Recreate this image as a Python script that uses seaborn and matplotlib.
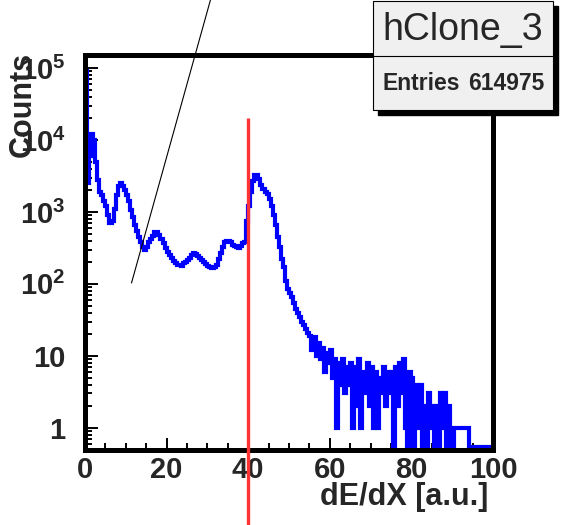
import numpy as np
import pandas as pd
import matplotlib
matplotlib.use("Agg")
import matplotlib.pyplot as plt
import seaborn as sns
from matplotlib.lines import Line2D
from matplotlib.patches import Rectangle
from matplotlib.ticker import FixedLocator, FixedFormatter, LogLocator, MultipleLocator, NullFormatter

# ---------------- data ----------------
bin_width = 0.5
x_min, x_max = 0, 100
y_min, y_max = 0.50, 1.54e5
counts = [
    90000, 2500, 6000, 12000, 10000, 5000, 2800, 1900, 1700, 1400,
    1200, 900, 700, 750, 1100, 1700, 2300, 2500, 2300, 2000,
    1700, 1400, 1050, 850, 650, 550, 450, 380, 330, 300,
    330, 380, 420, 470, 520, 520, 480, 420, 370, 320,
    280, 250, 230, 210, 195, 185, 185, 180, 195, 200,
    215, 230, 255, 265, 260, 245, 230, 215, 200, 190,
    180, 170, 165, 170, 185, 220, 270, 330, 380, 400,
    400, 380, 350, 340, 330, 320, 340, 370, 380, 750,
    1200, 1900, 2700, 3300, 3300, 2900, 2400, 2100, 1900, 1800,
    1500, 1200, 900, 650, 450, 330, 220, 170, 110, 85,
    75, 65, 55, 45, 40, 35, 30, 27, 24, 21,
    19, 12, 18, 10, 15, 9, 13, 6, 11, 8,
    12, 5, 9, 1, 8, 4, 9, 3, 7, 4,
    8, 1, 7, 2, 9, 1, 6, 3, 8, 2,
    7, 1, 6, 1, 5, 3, 7, 2, 6, 3,
    6, 0, 7, 2, 8, 3, 9, 1, 0, 6,
    5, 0, 4, 1, 4, 0, 2, 0, 3, 1,
    2, 0, 2, 0, 3, 1, 3, 0, 2, 0,
    0, 1, 1, 1, 1, 1, 1, 1, 0, 0,
    0, 0, 0, 0, 0, 0, 0, 0, 0, 0,
]
x_ticks = [0, 20, 40, 60, 80, 100]
x_tick_labels = ["0", "20", "40", "60", "80", "100"]
y_ticks = [1, 10, 1e2, 1e3, 1e4, 1e5]
y_tick_labels = ["1", "10", r"$10^{2}$", r"$10^{3}$", r"$10^{4}$", r"$10^{5}$"]
cut_value = 40
hist_name = "hClone_3"
entries_label = "Entries"
entries_value = "614975"
x_label = "dE/dX [a.u.]"
y_label = "Counts"

# ---------------- style ----------------
W, H = 562, 525
sns.set_style("ticks")
FONT = "Liberation Sans"
plt.rcParams["font.family"] = [FONT, "DejaVu Sans"]
plt.rcParams["mathtext.fontset"] = "custom"
plt.rcParams["mathtext.rm"] = FONT + ":bold"
plt.rcParams["mathtext.bf"] = FONT + ":bold"
plt.rcParams["mathtext.it"] = FONT + ":bold"

fig = plt.figure(figsize=(W / 100, H / 100), dpi=100)
fig.patch.set_facecolor("white")

# axes frame in pixel coordinates (left, right, top, bottom spine centres)
L, R, T, B = 85, 493, 54.5, 449.5
ax = fig.add_axes([L / W, 1 - B / H, (R - L) / W, (B - T) / H])
ax.set_facecolor("white")
ax.set_yscale("log")

# ---------------- histogram ----------------
c = np.asarray(counts, dtype=float)
edges = x_min + bin_width * np.arange(len(c) + 1)
zero_level = y_min * 1.1
drawn = np.where(c > 0, c, zero_level)
df = pd.DataFrame({
    "edge": np.concatenate([[edges[0]], edges]),
    "count": np.concatenate([[zero_level], drawn, [drawn[-1]]]),
})
sns.lineplot(data=df, x="edge", y="count", ax=ax, estimator=None, sort=False,
             drawstyle="steps-post", color="#0000ff", linewidth=3.0,
             solid_joinstyle="miter", solid_capstyle="butt")

ax.set_xlim(x_min, x_max)
ax.set_ylim(y_min, y_max)

# cut line
ax.plot([cut_value, cut_value], [-0.19, 0.84], transform=ax.get_xaxis_transform(),
        color="#ff3333", linewidth=2.4, clip_on=False, zorder=6, solid_capstyle="butt")

# ---------------- axes cosmetics ----------------
for s in ax.spines.values():
    s.set_linewidth(3.6)
    s.set_color("black")
    s.set_visible(True)

ax.xaxis.set_major_locator(FixedLocator(x_ticks))
ax.xaxis.set_major_formatter(FixedFormatter(x_tick_labels))
ax.xaxis.set_minor_locator(MultipleLocator(5))
ax.yaxis.set_major_locator(FixedLocator(y_ticks))
ax.yaxis.set_major_formatter(FixedFormatter(y_tick_labels))
ax.yaxis.set_minor_locator(LogLocator(base=10, subs=np.arange(2, 10)))
ax.yaxis.set_minor_formatter(NullFormatter())

ax.tick_params(axis="both", which="major", direction="in", length=9, width=1.4,
               color="black", labelsize=21, top=False, right=False)
ax.tick_params(axis="both", which="minor", direction="in", length=5, width=1.4,
               color="black", top=False, right=False)
ax.tick_params(axis="x", which="major", pad=5)
ax.tick_params(axis="y", which="major", pad=14)
for lab in ax.get_xticklabels() + ax.get_yticklabels():
    lab.set_fontweight("bold")

ax.set_xlabel(x_label, fontsize=22, fontweight="bold", loc="right")
ax.xaxis.set_label_coords((488 - L) / (R - L), (B - 482) / (B - T))
ax.set_ylabel(y_label, fontsize=22, fontweight="bold", loc="top")
ax.yaxis.set_label_coords((38 - L) / (R - L), (B - 52) / (B - T))

# ---------------- annotation line ----------------
fig.add_artist(Line2D([131.5 / W, 211 / W], [1 - 283 / H, 1 + 2 / H],
                      transform=fig.transFigure, color="black", linewidth=0.8, zorder=4))

# ---------------- stats box ----------------
bx0, bx1, by0, bdiv, by1 = 373, 553, 1, 56, 110
shadow = Rectangle(((bx0 + 5) / W, 1 - (by1 + 5) / H), (bx1 - bx0) / W, (by1 - by0) / H,
                   transform=fig.transFigure, facecolor="black", edgecolor="black", zorder=7)
fig.add_artist(shadow)
box = Rectangle((bx0 / W, 1 - by1 / H), (bx1 - bx0) / W, (by1 - by0) / H,
                transform=fig.transFigure, facecolor="#f0f0f0", edgecolor="black",
                linewidth=0.8, zorder=8)
fig.add_artist(box)
fig.add_artist(Line2D([bx0 / W, bx1 / W], [1 - bdiv / H, 1 - bdiv / H],
                      transform=fig.transFigure, color="black", linewidth=0.8, zorder=9))
fig.text((bx0 + bx1) / 2 / W, 1 - (by0 + bdiv + 2) / 2 / H, hist_name, ha="center", va="center",
         fontsize=27, family=FONT, zorder=10)
fig.text((bx0 + 9) / W, 1 - 84 / H, entries_label, ha="left", va="center",
         fontsize=16.5, fontweight="bold", family=FONT, zorder=10)
fig.text((bx1 - 9) / W, 1 - 84 / H, entries_value, ha="right", va="center",
         fontsize=16.5, fontweight="bold", family=FONT, zorder=10)

fig.savefig("out.png", dpi=100)
